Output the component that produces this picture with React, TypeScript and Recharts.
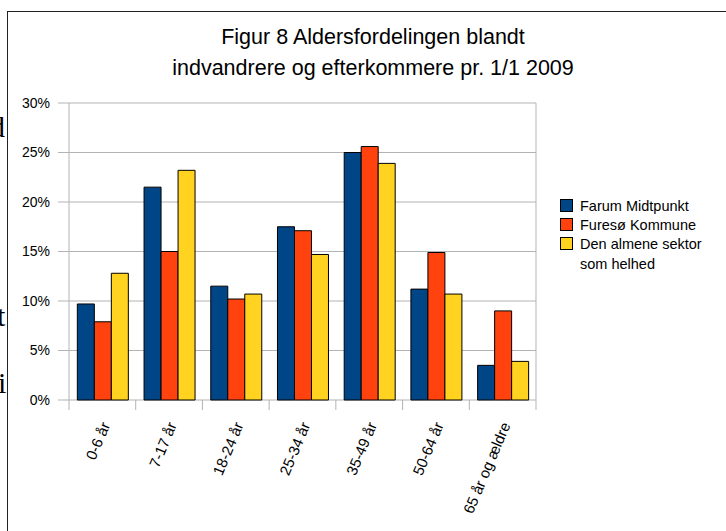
import { BarChart, Bar, XAxis, YAxis, CartesianGrid } from 'recharts'

const categories = ['0-6 år', '7-17 år', '18-24 år', '25-34 år', '35-49 år', '50-64 år', '65 år og ældre']
const farumMidtpunkt = [9.7, 21.5, 11.5, 17.5, 25.0, 11.2, 3.5]
const furesoKommune = [7.9, 15.0, 10.2, 17.1, 25.6, 14.9, 9.0]
const almeneSektor = [12.8, 23.2, 10.7, 14.7, 23.9, 10.7, 3.9]
const yTicks = [0, 5, 10, 15, 20, 25, 30]

const series = [
  { key: 'farum', name: 'Farum Midtpunkt', color: '#004586', values: farumMidtpunkt },
  { key: 'fureso', name: 'Furesø Kommune', color: '#ff420e', values: furesoKommune },
  { key: 'almen', name: 'Den almene sektor som helhed', color: '#ffd320', values: almeneSektor },
]

const data = categories.map((label, i) => {
  const row: Record<string, string | number> = { label }
  series.forEach((s) => {
    row[s.key] = s.values[i]
  })
  return row
})

const W = 726
const H = 531
const MARGIN = { top: 103, right: 190, bottom: 101, left: 0 }
const Y_W = 69
const PLOT_W = W - MARGIN.right - MARGIN.left - Y_W
const BAND = PLOT_W / categories.length
const FONT = '"Liberation Sans", Arial, sans-serif'

function CategoryTick(props: any) {
  const { x, y, payload, index } = props
  const left = x - BAND / 2
  const right = x + BAND / 2
  return (
    <g>
      <line x1={left} y1={y} x2={left} y2={y + 10} stroke="#b3b3b3" />
      {index === categories.length - 1 && (
        <line x1={right} y1={y} x2={right} y2={y + 10} stroke="#b3b3b3" />
      )}
      <text
        x={0}
        y={0}
        transform={`translate(${x + 8},${y + 25}) rotate(-67)`}
        textAnchor="end"
        fontSize={15}
        fontFamily={FONT}
        fill="#000"
      >
        {payload.value}
      </text>
    </g>
  )
}

export default function App() {
  return (
    <div
      style={{
        position: 'fixed',
        left: 0,
        top: 0,
        width: W,
        height: H,
        background: '#fff',
        overflow: 'hidden',
        fontFamily: FONT,
      }}
    >
      {/* page text peeking in at the left edge */}
      <div
        style={{
          position: 'absolute',
          left: 0,
          top: 0,
          width: 7,
          height: H,
          overflow: 'hidden',
          fontFamily: '"Liberation Serif", "Times New Roman", serif',
          fontSize: 30,
          color: '#000',
        }}
      >
        <span style={{ position: 'absolute', left: -10, top: 110 }}>d</span>
        <span style={{ position: 'absolute', left: -3, top: 299 }}>t</span>
        <span style={{ position: 'absolute', left: -2, top: 366 }}>i</span>
      </div>
      <div
        style={{
          position: 'absolute',
          left: 7,
          top: 11,
          width: W,
          height: H,
          borderTop: '1px solid #222',
          borderLeft: '1px solid #222',
        }}
      />
      <div
        style={{
          position: 'absolute',
          left: 0,
          top: 22,
          width: 746,
          textAlign: 'center',
          fontSize: 21.5,
          lineHeight: '31px',
          color: '#000',
        }}
      >
        Figur 8 Aldersfordelingen blandt
        <br />
        indvandrere og efterkommere pr. 1/1 2009
      </div>
      <div style={{ position: 'absolute', left: 0, top: 0 }}>
        <BarChart
          width={W}
          height={H}
          data={data}
          margin={MARGIN}
          barCategoryGap="12.5%"
          barGap={0}
        >
          <CartesianGrid
            stroke="#b3b3b3"
            horizontal
            vertical
            verticalCoordinatesGenerator={({ offset }: any) => [
              offset.left,
              offset.left + offset.width,
            ]}
          />
          <XAxis
            dataKey="label"
            height={30}
            axisLine={false}
            tickLine={false}
            tickSize={0}
            tickMargin={0}
            interval={0}
            tick={<CategoryTick />}
          />
          <YAxis
            width={Y_W}
            domain={[0, 30]}
            ticks={yTicks}
            interval={0}
            axisLine={false}
            tickLine={{ stroke: '#b3b3b3' }}
            tickSize={11}
            tickMargin={8}
            tickFormatter={(v: number) => `${v}%`}
            tick={{ fontSize: 14, fill: '#000', fontFamily: FONT }}
          />
          {series.map((s) => (
            <Bar
              key={s.key}
              dataKey={s.key}
              name={s.name}
              fill={s.color}
              stroke="#000"
              strokeWidth={1}
              isAnimationActive={false}
            />
          ))}
        </BarChart>
      </div>
      <div
        style={{
          position: 'absolute',
          left: 560,
          top: 199,
          width: 150,
          fontSize: 14.5,
          lineHeight: '20px',
          color: '#000',
        }}
      >
        {series.map((s) => (
          <div key={s.key} style={{ display: 'flex', alignItems: 'flex-start', marginBottom: 2 }}>
            <span
              style={{
                display: 'inline-block',
                width: 11,
                height: 11,
                background: s.color,
                border: '1px solid #000',
                marginTop: 0,
                marginRight: 7,
                flexShrink: 0,
              }}
            />
            <span style={{ marginTop: -3, maxWidth: 125 }}>{s.name}</span>
          </div>
        ))}
      </div>
    </div>
  )
}
